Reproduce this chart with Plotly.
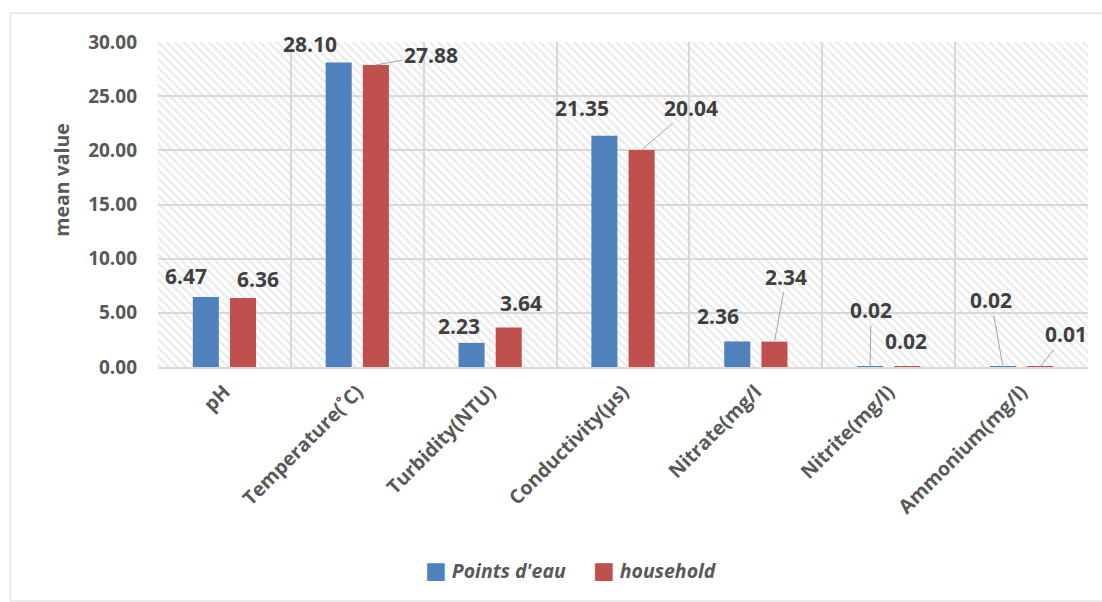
import plotly.graph_objects as go

categories = ['pH', 'Temperature(˚C)', 'Turbidity(NTU)', 'Conductivity(µs)',
              'Nitrate(mg/l', 'Nitrite(mg/l)', 'Ammonium(mg/l)']
series_names = ["Points d'eau", "household"]
points_deau = [6.47, 28.10, 2.23, 21.35, 2.36, 0.02, 0.02]
household = [6.36, 27.88, 3.64, 20.04, 2.34, 0.02, 0.01]
y_ticks = [0, 5, 10, 15, 20, 25, 30]

# label offsets (px) from bar top, and whether a leader line is drawn
blue_off = [(-20, -21), (-29, -19), (-13, -17), (-22, -28), (-19, -25), (1, -57), (-12, -67)]
blue_lead = [False, False, False, False, False, True, True]
red_off = [(15, -19), (55, -10), (12, -25), (49, -42), (12, -65), (-1, -26), (26, -33)]
red_lead = [False, True, False, True, True, False, True]

colors = ['#4F81BD', '#C0504D']
FONT = 'Open Sans'
GRID = '#d9d9d9'
BAR_OFF = 0.14

fig = go.Figure()

# hatched plot-area background on main axis
fig.add_trace(go.Bar(
    x=[(len(categories) - 1) / 2], y=[max(y_ticks)], width=[len(categories)],
    xaxis='x', yaxis='y', showlegend=False, hoverinfo='skip',
    marker=dict(color='rgba(0,0,0,0)', line=dict(width=0),
                pattern=dict(shape='\\', fgcolor='#d6d6d6', bgcolor='rgba(0,0,0,0)',
                             size=6, solidity=0.4, fillmode='overlay')),
))

for name, vals, col in zip(series_names, [points_deau, household], colors):
    fig.add_trace(go.Bar(x=categories, y=vals, name=name, xaxis='x2', yaxis='y',
                         marker=dict(color=col, line=dict(width=0)), showlegend=False))

annotations = []
for vals, offs, leads, sgn in [(points_deau, blue_off, blue_lead, -1), (household, red_off, red_lead, 1)]:
    for i, (v, (ax, ay), lead) in enumerate(zip(vals, offs, leads)):
        annotations.append(dict(
            x=i + sgn * BAR_OFF, y=v, xref='x2', yref='y', text=f'{v:.2f}',
            showarrow=True, ax=ax, ay=ay, arrowhead=0, arrowwidth=1, standoff=0,
            arrowcolor='#a6a6a6' if lead else 'rgba(0,0,0,0)',
            font=dict(family=FONT, size=21, color='#404040', weight='bold'),
        ))

# y axis title
annotations.append(dict(text='mean value', xref='paper', yref='paper', x=0, y=0.575,
                        xshift=-112, textangle=-90, showarrow=False,
                        font=dict(family=FONT, size=19.5, color='#595959', weight='bold')))

# legend
leg_x = [0.285, 0.4656]
for name, col, lx in zip(series_names, colors, leg_x):
    annotations.append(dict(
        text=f'<span style="color:{col};font-family:DejaVu Sans;font-size:23px">■</span> <i>{name}</i>',
        xref='paper', yref='paper', x=lx, y=-0.625, xanchor='left', yanchor='middle',
        showarrow=False, font=dict(family=FONT, size=19.5, color='#595959', weight='bold')))

fig.update_layout(
    width=1102, height=602,
    margin=dict(l=158, r=14, t=42, b=235),
    paper_bgcolor='white', plot_bgcolor='white',
    barmode='group', bargap=0.44, bargroupgap=0.30,
    hovermode=False,
    xaxis=dict(range=[-0.5, len(categories) - 0.5], tickvals=[k - 0.5 for k in range(len(categories) + 1)],
               showticklabels=False, showgrid=True, gridcolor=GRID, gridwidth=1.5,
               zeroline=False, showline=False, ticks=''),
    xaxis2=dict(overlaying='x', range=[-0.5, len(categories) - 0.5], type='category',
                tickangle=-45, showgrid=False, zeroline=False, showline=True,
                linecolor=GRID, linewidth=1.5, ticks='', side='bottom', ticklabelstandoff=4,
                tickfont=dict(family=FONT, size=19.5, color='#595959', weight='bold')),
    yaxis=dict(range=[0, max(y_ticks)], tickvals=y_ticks, ticktext=[f'{t:.2f}' for t in y_ticks],
               showgrid=True, gridcolor=GRID, gridwidth=1.5, zeroline=False, showline=False,
               ticks='', ticklabelstandoff=20,
               tickfont=dict(family=FONT, size=19, color='#595959', weight='bold')),
    annotations=annotations,
    shapes=[dict(type='rect', xref='paper', yref='paper', x0=-0.159, x1=1.02, y0=-0.72, y1=1.089,
                 line=dict(color=GRID, width=1), layer='below')],
)

fig.write_html('out.html')
